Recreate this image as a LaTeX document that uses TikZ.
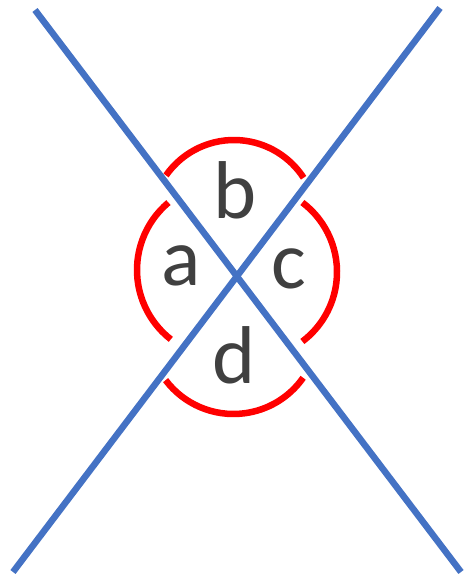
\documentclass[tikz,border=0pt]{standalone}
\usepackage{fontspec}
\setmainfont{Carlito}
\usetikzlibrary{positioning}
\definecolor{crossblue}{HTML}{4472C4}
\definecolor{ringred}{HTML}{FF0000}
\definecolor{lettergray}{HTML}{404040}

\begin{document}
\begin{tikzpicture}[
  x=1pt,
  y=1pt,
  ring/.style={
    draw=ringred,
    line width=6.5pt,
  },
  cross/.style={
    draw=crossblue,
    line width=6.5pt,
  },
  letter/.style={
    inner sep=0pt,
    text=lettergray,
    font=\fontsize{82}{96}\selectfont,
  },
]
\useasboundingbox (0,0) rectangle (467,580);

% red ring, four pieces
\draw[ring] (234,357) ++(145:83) arc[start angle=145, end angle=33, radius=83];
\draw[ring] (233.5,251) ++(217:85) arc[start angle=217, end angle=325, radius=85];
\draw[ring] (225,310) ++(130:88) arc[start angle=130, end angle=232, radius=88];
\draw[ring] (250,308) ++(53:87) arc[start angle=53, end angle=-53, radius=87];

% letters
\node[letter] (lb) at (235,390) {b};
\node[letter] (la) at (181,314) {a};
\node[letter] (lc) at (289,311) {c};
\node[letter] (ld) at (234,225) {d};

% blue cross
\coordinate (nw) at (35,570);
\coordinate (se) at (461,8);
\coordinate (ne) at (440,572);
\coordinate (sw) at (13,8);
\draw[cross] (nw) -- (se);
\draw[cross] (ne) -- (sw);
\end{tikzpicture}
\end{document}
